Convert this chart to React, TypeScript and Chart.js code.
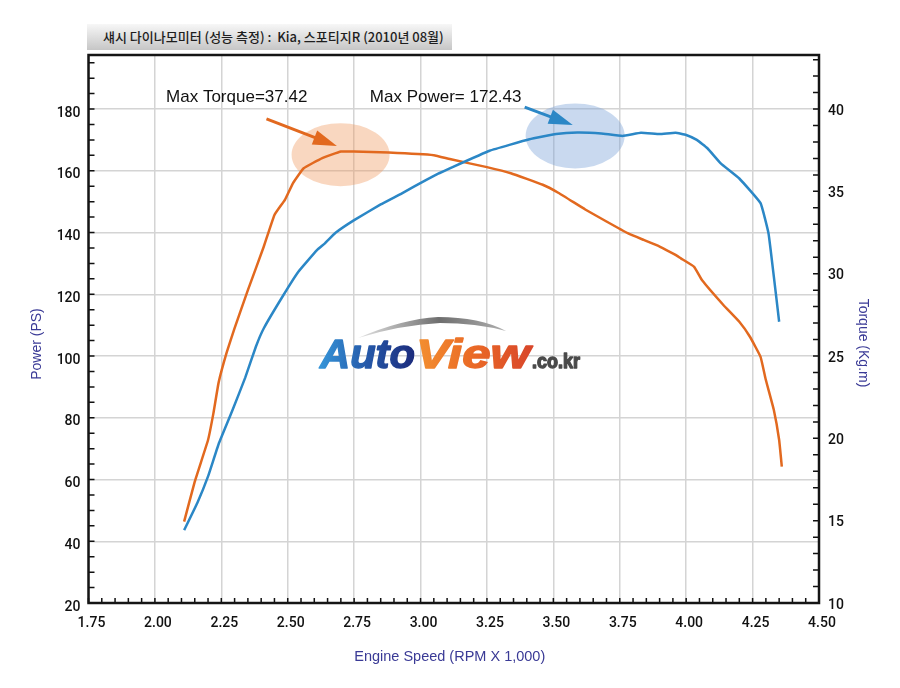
import React, { useRef, useEffect } from "react";
import Chart from "chart.js/auto";

// engine speed (RPM x 1,000) vs power (PS)
const rpmPower = [
  2.11, 2.16, 2.2, 2.24, 2.29, 2.34, 2.38, 2.41, 2.48, 2.54, 2.61, 2.64, 2.68,
  2.75, 2.85, 2.93, 3.02, 3.07, 3.11, 3.26, 3.41, 3.51, 3.59, 3.68, 3.76,
  3.83, 3.9, 3.96, 4.0, 4.04, 4.08, 4.13, 4.2, 4.28, 4.31, 4.33, 4.35,
];
const powerPS = [
  43.6, 52.5, 61, 71.5, 82, 93, 103, 109, 119.2, 127.3, 134.3, 136.5, 139.9,
  144, 149.1, 152.7, 157, 159.2, 160.8, 166.5, 170.2, 171.9, 172.4, 172.1,
  171.3, 172.3, 171.9, 172.3, 171.6, 170, 167.3, 162.4, 157.5, 149.5, 139.7,
  125.7, 111.1,
];

// engine speed vs torque (Kg.m)
const rpmTorque = [
  2.11, 2.15, 2.2, 2.22, 2.24, 2.27, 2.3, 2.35, 2.41, 2.45, 2.49, 2.52, 2.56,
  2.63, 2.7, 2.75, 2.88, 3.05, 3.11, 3.25, 3.34, 3.46, 3.52, 3.62, 3.7, 3.78,
  3.84, 3.9, 3.96, 3.98, 4.03, 4.06, 4.14, 4.2, 4.24, 4.28, 4.3, 4.33, 4.35,
  4.36,
];
const torqueKgm = [
  14.94, 17.37, 19.9, 21.5, 23.4, 25.2, 26.7, 29.0, 31.65, 33.57, 34.5, 35.5,
  36.4, 37.02, 37.42, 37.42, 37.36, 37.2, 36.96, 36.47, 36.1, 35.4, 34.9, 33.9,
  33.17, 32.46, 32.05, 31.65, 31.14, 30.93, 30.42, 29.6, 28.1, 27.08, 26.17,
  24.95, 23.54, 21.72, 19.9, 18.28,
];

const rpmTicks = [1.75, 2.0, 2.25, 2.5, 2.75, 3.0, 3.25, 3.5, 3.75, 4.0, 4.25, 4.5];
const powerTicks = [20, 40, 60, 80, 100, 120, 140, 160, 180];
const torqueTicks = [10, 15, 20, 25, 30, 35, 40];

const powerMin = 20;
const powerMax = 197.5;
const torqueMin = 10;
// keep the torque axis locked to the power axis (20..180 PS <-> 10..40 Kg.m)
const torqueMax = torqueMin + ((powerMax - powerMin) * 30) / 160;

const POWER_COLOR = "#2b87c6";
const TORQUE_COLOR = "#e2691f";
const TITLE_COLOR = "#3a3a96";

// callouts, positioned in (rpm, PS) units
const callouts = {
  torqueLabel: { x: 2.042, y: 183.9, text: "Max Torque=37.42" },
  powerLabel: { x: 2.809, y: 183.9, text: "Max Power= 172.43" },
  torqueArrow: { x1: 2.42, y1: 176.8, x2: 2.685, y2: 168.0 },
  powerArrow: { x1: 3.392, y1: 180.6, x2: 3.573, y2: 174.8 },
  torqueSpot: { x: 2.699, y: 165.2 },
  powerSpot: { x: 3.582, y: 171.3 },
};

const drawArrow = (ctx: CanvasRenderingContext2D, x1: number, y1: number, x2: number, y2: number, color: string) => {
  const ang = Math.atan2(y2 - y1, x2 - x1);
  const hl = 24;
  const hw = 7.5;
  const bx = x2 - hl * Math.cos(ang);
  const by = y2 - hl * Math.sin(ang);
  ctx.save();
  ctx.strokeStyle = color;
  ctx.fillStyle = color;
  ctx.lineWidth = 3;
  ctx.beginPath();
  ctx.moveTo(x1, y1);
  ctx.lineTo(bx + 2 * Math.cos(ang), by + 2 * Math.sin(ang));
  ctx.stroke();
  ctx.beginPath();
  ctx.moveTo(x2, y2);
  ctx.lineTo(bx - hw * Math.sin(ang), by + hw * Math.cos(ang));
  ctx.lineTo(bx + hw * Math.sin(ang), by - hw * Math.cos(ang));
  ctx.closePath();
  ctx.fill();
  ctx.restore();
};

const drawWord = (ctx: CanvasRenderingContext2D, word: string, x: number, y: number, width: number, colors: string[]) => {
  const w = ctx.measureText(word).width;
  ctx.save();
  ctx.translate(x, y);
  ctx.scale(width / w, 1);
  let fill: any = colors[0];
  if (colors.length > 1) {
    const g = ctx.createLinearGradient(0, 0, w, 0);
    colors.forEach((c, i) => g.addColorStop(i / (colors.length - 1), c));
    fill = g;
  }
  ctx.fillStyle = fill;
  ctx.strokeStyle = fill;
  ctx.lineWidth = 1.4;
  ctx.lineJoin = "round";
  ctx.fillText(word, 0, 0);
  ctx.strokeText(word, 0, 0);
  ctx.restore();
};

const drawLogo = (ctx: CanvasRenderingContext2D, x: number, y: number) => {
  ctx.save();
  const sg = ctx.createLinearGradient(x + 38, 0, x + 186, 0);
  sg.addColorStop(0, "#e4e4e4");
  sg.addColorStop(0.55, "#6e6e6e");
  sg.addColorStop(1, "#b0b0b0");
  ctx.fillStyle = sg;
  ctx.beginPath();
  ctx.moveTo(x + 38, y - 30);
  ctx.quadraticCurveTo(x + 82, y - 49, x + 118, y - 51);
  ctx.quadraticCurveTo(x + 160, y - 51, x + 186, y - 37);
  ctx.quadraticCurveTo(x + 156, y - 45, x + 120, y - 45);
  ctx.quadraticCurveTo(x + 80, y - 43, x + 38, y - 30);
  ctx.fill();

  ctx.textBaseline = "alphabetic";
  ctx.textAlign = "left";
  ctx.font = 'italic bold 40px "Liberation Sans"';
  drawWord(ctx, "Auto", x, y, 95, ["#3594d8", "#2558a8", "#1c2b7c"]);
  drawWord(ctx, "View", x + 96, y, 114, ["#f39030", "#ea6a26", "#d9472a"]);
  ctx.font = 'bold 20px "Liberation Sans"';
  drawWord(ctx, ".co.kr", x + 212, y, 48, ["#4a4a4a"]);
  ctx.restore();
};

const dynoPlugin = {
  id: "dynoDecor",
  beforeDatasetsDraw(chart: any) {
    const { ctx, chartArea: a, scales } = chart;
    const px = (v: number) => scales.x.getPixelForValue(v);
    const py = (v: number) => scales.yP.getPixelForValue(v);

    drawLogo(ctx, a.left + 231.5, a.top + 313);

    ctx.save();
    ctx.fillStyle = "rgba(238,150,90,0.38)";
    ctx.beginPath();
    ctx.ellipse(px(callouts.torqueSpot.x), py(callouts.torqueSpot.y), 49, 31.5, 0, 0, Math.PI * 2);
    ctx.fill();
    ctx.fillStyle = "rgba(120,160,215,0.40)";
    ctx.beginPath();
    ctx.ellipse(px(callouts.powerSpot.x), py(callouts.powerSpot.y), 49.5, 32.5, 0, 0, Math.PI * 2);
    ctx.fill();
    ctx.restore();
  },
  afterDatasetsDraw(chart: any) {
    const { ctx, scales } = chart;
    const px = (v: number) => scales.x.getPixelForValue(v);
    const py = (v: number) => scales.yP.getPixelForValue(v);
    const ta = callouts.torqueArrow;
    const pa = callouts.powerArrow;
    drawArrow(ctx, px(ta.x1), py(ta.y1), px(ta.x2), py(ta.y2), TORQUE_COLOR);
    drawArrow(ctx, px(pa.x1), py(pa.y1), px(pa.x2), py(pa.y2), POWER_COLOR);

    ctx.save();
    ctx.font = '17px "Liberation Sans"';
    ctx.fillStyle = "#111";
    ctx.textBaseline = "middle";
    ctx.textAlign = "left";
    [callouts.torqueLabel, callouts.powerLabel].forEach((c) => {
      ctx.fillText(c.text, px(c.x), py(c.y));
    });
    ctx.restore();
  },
  afterDraw(chart: any) {
    const { ctx, chartArea: a, scales } = chart;
    ctx.save();
    // inward minor ticks
    ctx.strokeStyle = "#111";
    ctx.lineWidth = 1.5;
    ctx.beginPath();
    for (let k = 0; k <= 55; k++) {
      const x = scales.x.getPixelForValue(1.75 + k * 0.05);
      ctx.moveTo(x, a.bottom);
      ctx.lineTo(x, a.bottom - 5);
    }
    for (let k = 0; k <= 35; k++) {
      const y = scales.yP.getPixelForValue(20 + k * 5);
      ctx.moveTo(a.left, y);
      ctx.lineTo(a.left + 6, y);
    }
    for (let k = 0; k <= 33; k++) {
      const y = scales.yT.getPixelForValue(10 + k);
      ctx.moveTo(a.right, y);
      ctx.lineTo(a.right - 6, y);
    }
    ctx.stroke();

    // plot frame
    ctx.lineWidth = 2.5;
    ctx.strokeStyle = "#151515";
    ctx.strokeRect(a.left, a.top, a.right - a.left, a.bottom - a.top);

    // axis titles
    const midY = (a.top + a.bottom) / 2 + 15;
    ctx.fillStyle = TITLE_COLOR;
    ctx.font = '14px "Liberation Sans"';
    ctx.textAlign = "center";
    ctx.textBaseline = "middle";
    ctx.save();
    ctx.translate(a.left - 51, midY);
    ctx.rotate(-Math.PI / 2);
    ctx.fillText("Power (PS)", 0, 0);
    ctx.restore();
    ctx.save();
    ctx.translate(a.right + 44, midY - 1);
    ctx.rotate(Math.PI / 2);
    ctx.fillText("Torque (Kg.m)", 0, 0);
    ctx.restore();
    ctx.font = '14.5px "Liberation Sans"';
    ctx.fillText("Engine Speed (RPM X 1,000)", (a.left + a.right) / 2 - 4, a.bottom + 54);
    ctx.restore();
  },
};

const tickFont = { family: "Roboto", size: 14, weight: 500 as any };

const DynoChart = () => {
  const chartRef = useRef<HTMLCanvasElement>(null);
  const chartInstanceRef = useRef<Chart | null>(null);

  useEffect(() => {
    if (!chartRef.current) return;
    const ctx = chartRef.current.getContext("2d");
    if (!ctx) return;
    if (chartInstanceRef.current) chartInstanceRef.current.destroy();

    chartInstanceRef.current = new Chart(ctx, {
      type: "line",
      data: {
        datasets: [
          {
            label: "Power (PS)",
            data: rpmPower.map((r, i) => ({ x: r, y: powerPS[i] })),
            yAxisID: "yP",
            borderColor: POWER_COLOR,
            borderWidth: 2.5,
            pointRadius: 0,
            tension: 0.1,
            fill: false,
          },
          {
            label: "Torque (Kg.m)",
            data: rpmTorque.map((r, i) => ({ x: r, y: torqueKgm[i] })),
            yAxisID: "yT",
            borderColor: TORQUE_COLOR,
            borderWidth: 2.5,
            pointRadius: 0,
            tension: 0.1,
            fill: false,
          },
        ],
      },
      options: {
        animation: false,
        responsive: false,
        devicePixelRatio: 1,
        layout: { padding: { top: 55, left: 0, right: 0, bottom: 0 } },
        plugins: {
          legend: { display: false },
          tooltip: { enabled: false },
        },
        scales: {
          x: {
            type: "linear",
            min: 1.75,
            max: 4.5,
            afterBuildTicks: (s: any) => {
              s.ticks = rpmTicks.map((v) => ({ value: v }));
            },
            afterFit: (s: any) => {
              s.height = 85;
            },
            grid: { color: "#d4d4d4", lineWidth: 1.5, drawTicks: false },
            border: { display: false },
            ticks: {
              color: "#111",
              font: tickFont,
              padding: 12,
              labelOffset: 3,
              maxRotation: 0,
              autoSkip: false,
              callback: (v: any) => Number(v).toFixed(2),
            },
          },
          yP: {
            type: "linear",
            position: "left",
            min: powerMin,
            max: powerMax,
            afterBuildTicks: (s: any) => {
              s.ticks = powerTicks.map((v) => ({ value: v }));
            },
            afterFit: (s: any) => {
              s.width = 88.5;
            },
            grid: { color: "#d4d4d4", lineWidth: 1.5, drawTicks: false },
            border: { display: false },
            ticks: {
              color: "#111",
              font: tickFont,
              padding: 8,
              labelOffset: 4,
              autoSkip: false,
              callback: (v: any) => String(v),
            },
          },
          yT: {
            type: "linear",
            position: "right",
            min: torqueMin,
            max: torqueMax,
            afterBuildTicks: (s: any) => {
              s.ticks = torqueTicks.map((v) => ({ value: v }));
            },
            afterFit: (s: any) => {
              s.width = 81;
            },
            grid: { drawOnChartArea: false, drawTicks: false },
            border: { display: false },
            ticks: {
              color: "#111",
              font: tickFont,
              padding: 9,
              labelOffset: 2,
              autoSkip: false,
              callback: (v: any) => String(v),
            },
          },
        },
      },
      plugins: [dynoPlugin],
    });

    return () => {
      if (chartInstanceRef.current) {
        chartInstanceRef.current.destroy();
        chartInstanceRef.current = null;
      }
    };
  }, []);

  return <canvas ref={chartRef} width={900} height={688} />;
};

const App = () => {
  return (
    <div
      style={{
        position: "absolute",
        left: 0,
        top: 0,
        width: 900,
        height: 688,
        background: "#fff",
      }}
    >
      <DynoChart />
      <div
        style={{
          position: "absolute",
          left: 87,
          top: 24,
          width: 365,
          height: 26,
          boxSizing: "border-box",
          paddingLeft: 16,
          background: "linear-gradient(#f7f7f7, #c6c6c6)",
          fontFamily: '"Noto Sans CJK KR", sans-serif',
          fontSize: 13,
          fontWeight: 500,
          lineHeight: "26px",
          color: "#1e1e1e",
          whiteSpace: "nowrap",
        }}
      >
        섀시 다이나모미터 (성능 측정) :&nbsp; Kia, 스포티지R (2010년 08월)
      </div>
    </div>
  );
};

export default App;
